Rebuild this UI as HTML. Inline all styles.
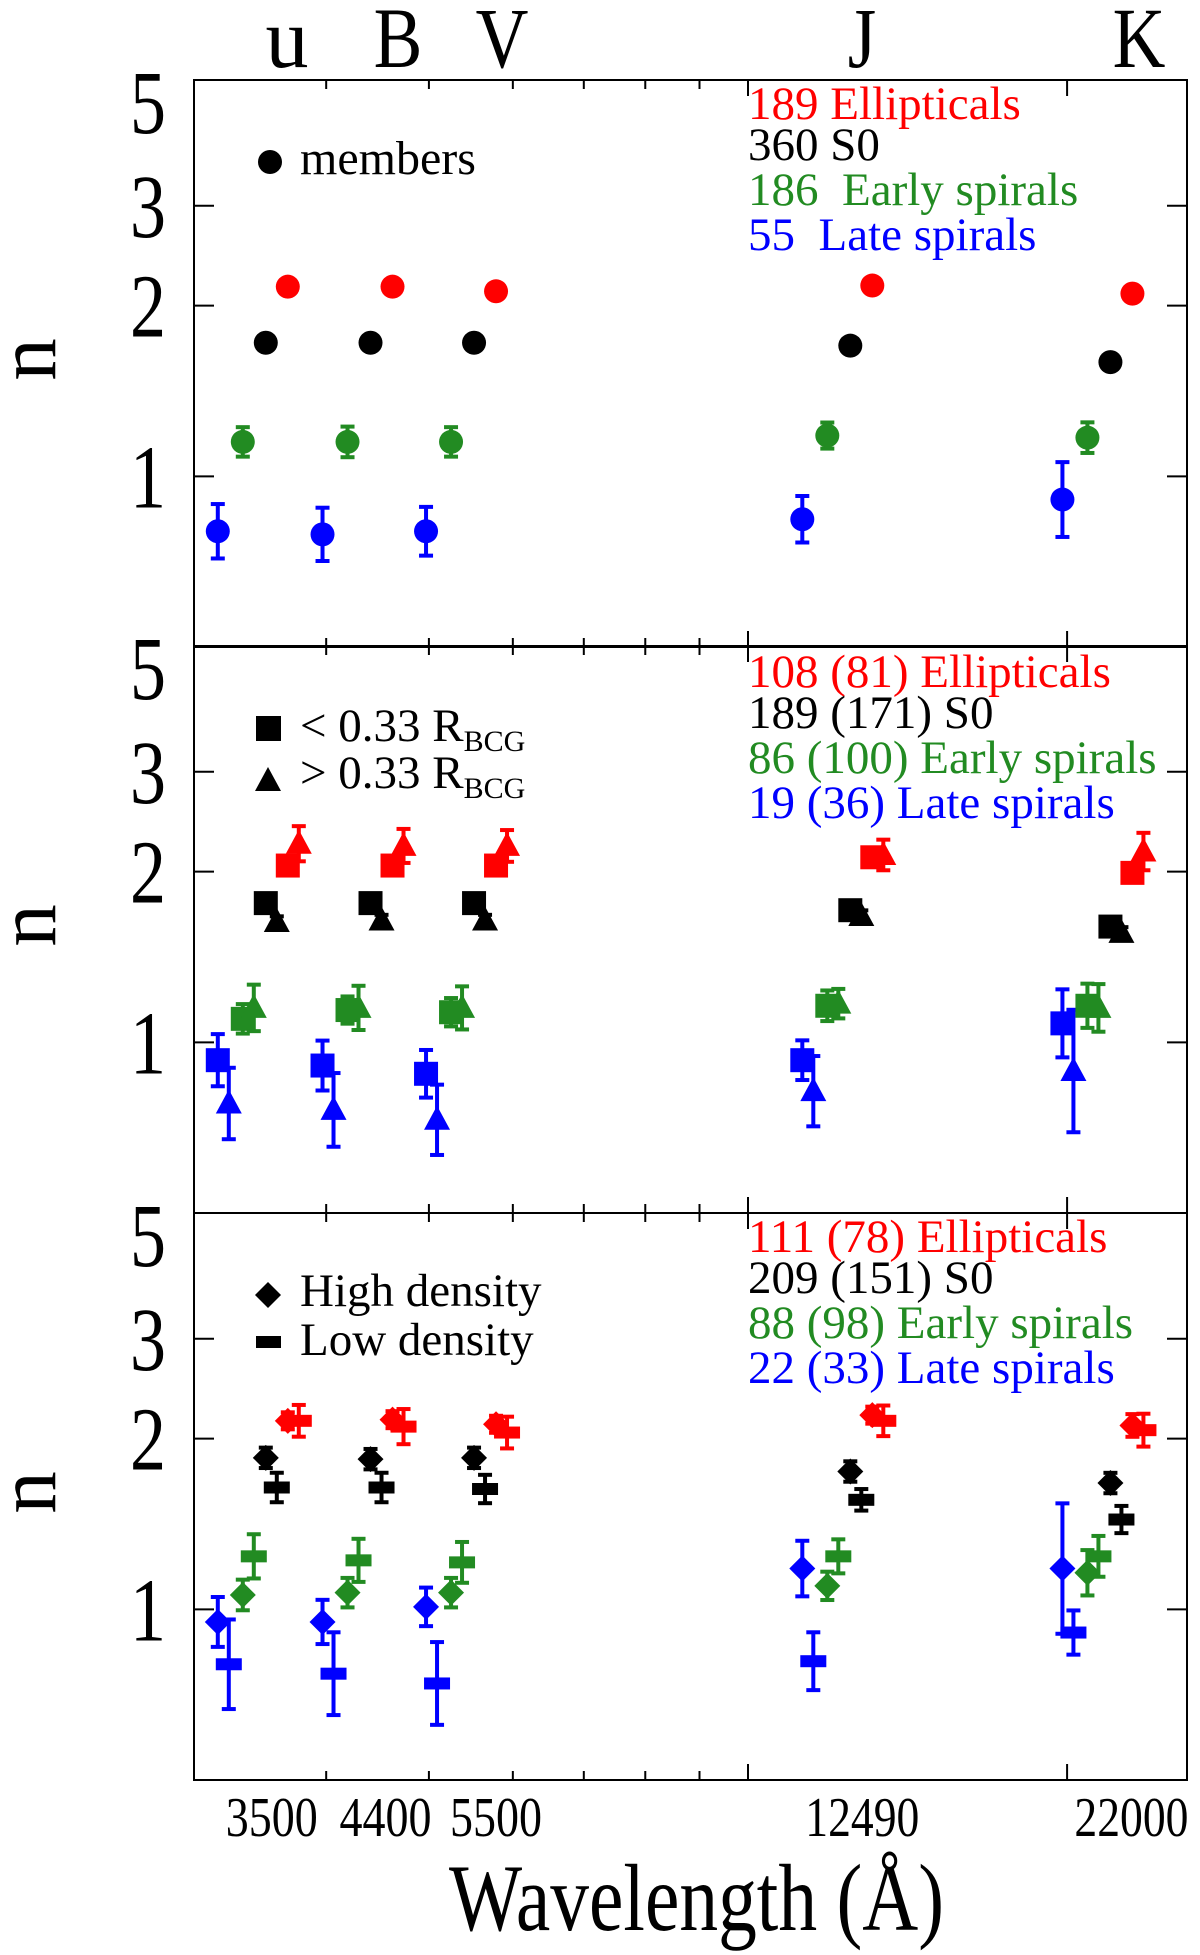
<!DOCTYPE html>
<html><head><meta charset="utf-8">
<style>
html,body{margin:0;padding:0;background:#fff;}
svg{display:block;font-family:"Liberation Serif",serif;}
</style></head>
<body>
<svg id="chart" width="1200" height="1955" viewBox="0 0 1200 1955" xmlns="http://www.w3.org/2000/svg">
  <g id="frames"></g>
  <g id="marks"></g>
  <g id="texts">
    <text x="287" y="67" font-size="86" text-anchor="middle">u</text>
    <text x="398" y="67" font-size="86" text-anchor="middle" transform="translate(398 0) scale(0.85 1) translate(-398 0)">B</text>
    <text x="502" y="67" font-size="86" text-anchor="middle" transform="translate(502 0) scale(0.85 1) translate(-502 0)">V</text>
    <text x="862" y="67" font-size="86" text-anchor="middle" transform="translate(862 0) scale(0.85 1) translate(-862 0)">J</text>
    <text x="1139" y="67" font-size="86" text-anchor="middle" transform="translate(1139 0) scale(0.85 1) translate(-1139 0)">K</text>

    <text x="449" y="1930" font-size="95" textLength="495" lengthAdjust="spacingAndGlyphs">Wavelength (Å)</text>

    <circle cx="270" cy="162" r="12" fill="#000"/>
    <text x="300" y="174" font-size="48">members</text>
    <g font-size="47">
      <text x="748" y="119" fill="#ff0000">189 Ellipticals</text>
      <text x="748" y="160" fill="#000">360 S0</text>
      <text x="748" y="205" fill="#228b22" xml:space="preserve">186  Early spirals</text>
      <text x="748" y="250" fill="#0000ff" xml:space="preserve">55  Late spirals</text>
    </g>
    <rect x="256" y="716" width="25" height="25" fill="#000"/>
    <text x="300" y="741" font-size="47">&lt; 0.33 R<tspan font-size="30" dy="10">BCG</tspan></text>
    <polygon points="268,767 281,791 255,791" fill="#000"/>
    <text x="300" y="788" font-size="47">&gt; 0.33 R<tspan font-size="30" dy="10">BCG</tspan></text>
    <g font-size="47">
      <text x="748" y="687" fill="#ff0000">108 (81) Ellipticals</text>
      <text x="748" y="728" fill="#000">189 (171) S0</text>
      <text x="748" y="773" fill="#228b22">86 (100) Early spirals</text>
      <text x="748" y="818" fill="#0000ff">19 (36) Late spirals</text>
    </g>
    <polygon points="268,1282 281,1295 268,1308 255,1295" fill="#000"/>
    <text x="300" y="1306" font-size="47">High density</text>
    <rect x="256" y="1336" width="25" height="12" fill="#000"/>
    <text x="300" y="1355" font-size="47">Low density</text>
    <g font-size="47">
      <text x="748" y="1252" fill="#ff0000">111 (78) Ellipticals</text>
      <text x="748" y="1293" fill="#000">209 (151) S0</text>
      <text x="748" y="1338" fill="#228b22">88 (98) Early spirals</text>
      <text x="748" y="1383" fill="#0000ff">22 (33) Late spirals</text>
    </g>
  </g>
</svg>
<script>
const bands = ['u','B','V','J','K'];
const bandLam = [3680, 4620, 5785, 13100, 23050];
const xTickMinor = [4000,5000,6000,7000,8000,9000];
const xTickMajor = [10000,20000];
const xTickLabels = ['3500','4400','5500','12490','22000'];
const yTicks = [1,2,3];
const yTickLabels = ['5','3','2','1'];
const yTickLabelVals = [5,3,2,1];
const typeNames = ['ellipticals','s0','early-spirals','late-spirals'];

const memE = [2.16,2.16,2.12,2.17,2.10];
const memS0 = [1.72,1.72,1.72,1.70,1.59];
const memSa = [1.15,1.15,1.15,1.18,1.17];
const memSc = [0.80,0.79,0.80,0.84,0.91];
const memEerr = [0.01,0.01,0.01,0.01,0.01];
const memS0err = [0.01,0.01,0.01,0.01,0.01];
const memSaerr = [0.026,0.027,0.026,0.023,0.027];
const memScerr = [0.048,0.047,0.043,0.041,0.066];

const inE = [2.05,2.05,2.05,2.12,1.99];
const inS0 = [1.76,1.76,1.76,1.71,1.60];
const inSa = [1.10,1.14,1.13,1.16,1.16];
const inSc = [0.93,0.91,0.88,0.93,1.08];
const inEerr = [0.015,0.015,0.015,0.015,0.015];
const inS0err = [0.01,0.01,0.01,0.01,0.01];
const inSaerr = [0.026,0.024,0.025,0.027,0.039];
const inScerr = [0.046,0.044,0.042,0.035,0.060];
const outE = [2.24,2.22,2.22,2.14,2.17];
const outS0 = [1.63,1.64,1.64,1.67,1.56];
const outSa = [1.15,1.15,1.15,1.17,1.15];
const outSc = [0.78,0.76,0.73,0.82,0.89];
const outEerr = [0.031,0.030,0.028,0.027,0.033];
const outS0err = [0.01,0.01,0.01,0.01,0.01];
const outSaerr = [0.041,0.039,0.038,0.026,0.042];
const outScerr = [0.063,0.065,0.062,0.062,0.108];

const hiE = [2.15,2.16,2.12,2.20,2.11];
const hiS0 = [1.85,1.84,1.85,1.75,1.67];
const hiSa = [1.06,1.07,1.07,1.10,1.16];
const hiSc = [0.95,0.95,1.01,1.18,1.18];
const hiEerr = [0.015,0.015,0.015,0.015,0.02];
const hiS0err = [0.018,0.018,0.018,0.018,0.018];
const hiSaerr = [0.027,0.026,0.026,0.025,0.040];
const hiScerr = [0.044,0.039,0.034,0.049,0.115];
const loE = [2.15,2.10,2.05,2.15,2.07];
const loS0 = [1.64,1.64,1.63,1.56,1.44];
const loSa = [1.24,1.22,1.21,1.24,1.24];
const loSc = [0.80,0.77,0.74,0.81,0.91];
const loEerr = [0.028,0.031,0.028,0.027,0.029];
const loS0err = [0.026,0.026,0.025,0.019,0.024];
const loSaerr = [0.039,0.038,0.036,0.030,0.036];
const loScerr = [0.079,0.073,0.073,0.051,0.039];

const NS = 'http://www.w3.org/2000/svg';
const X0 = 194, X1 = 1187;
const panelTop = [80, 646, 1213];
const PH = 567;
const colors = ['#ff0000','#000000','#228b22','#0000ff'];
const typeOffset = [0,-22,-45,-70];
const labelShift = [-16,-7,0,-10,-1];
const xs = l => 748 + 1060*Math.log10(l/10000);
const ys = (n,p) => panelTop[p] + PH*(Math.log10(5) - Math.log10(n));

const frames = document.getElementById('frames');
const marks = document.getElementById('marks');
const texts = document.getElementById('texts');

function mk(tag, attrs, parent){
  const e = document.createElementNS(NS, tag);
  for (const k in attrs) e.setAttribute(k, attrs[k]);
  parent.appendChild(e);
  return e;
}

for (let p=0;p<3;p++){
  const t = panelTop[p], b = t+PH;
  const fr = mk('rect',{x:X0,y:t,width:X1-X0,height:PH,fill:'none',stroke:'#000','stroke-width':2},frames);
  
  
  yTicks.forEach(v=>{
    const y = ys(v,p);
    const t1 = mk('line',{x1:X0,x2:X0+20,y1:y,y2:y,stroke:'#000','stroke-width':2},frames);
    
    
    const t2 = mk('line',{x1:X1-20,x2:X1,y1:y,y2:y,stroke:'#000','stroke-width':2},frames);
    
    
  });
  xTickMinor.forEach(l=>{
    const x = xs(l);
    const a = mk('line',{x1:x,x2:x,y1:t,y2:t+9,stroke:'#000','stroke-width':2},frames);
    
    
    const c = mk('line',{x1:x,x2:x,y1:b-9,y2:b,stroke:'#000','stroke-width':2},frames);
    
    
  });
  xTickMajor.forEach(l=>{
    const x = xs(l);
    const a = mk('line',{x1:x,x2:x,y1:t,y2:t+16,stroke:'#000','stroke-width':2},frames);
    
    
    const c = mk('line',{x1:x,x2:x,y1:b-16,y2:b,stroke:'#000','stroke-width':2},frames);
    
    
  });
  yTickLabels.forEach((s,i)=>{
    const v = yTickLabelVals[i];
    const y = v===5 ? t+53 : ys(v,p)+31;
    const tx = mk('text',{x:166,y:y,'font-size':90,'text-anchor':'end',transform:'translate(166 0) scale(0.8 1) translate(-166 0)'},texts);
    tx.textContent = s;
    
    
  });
  const cy = t + PH/2 - 4;
  const nl = mk('text',{x:0,y:0,'font-size':85,'text-anchor':'middle',transform:`translate(55 ${cy}) rotate(-90)`},texts);
  nl.textContent = 'n';
  
  
}

xTickLabels.forEach((s,i)=>{
  const x = xs(bandLam[i]) + labelShift[i];
  const tl = mk('text',{x:x,y:1836,'font-size':56,'text-anchor':'middle',textLength:(s.length===4?92:114),lengthAdjust:'spacingAndGlyphs'},texts);
  tl.textContent = s;
  
  
});

function errbar(x,n,err,p,col){
  const yT = ys(n*Math.pow(10,err),p), yB = ys(n/Math.pow(10,err),p);
  const g = mk('g',{stroke:col,'stroke-width':4},marks);
  
  
  mk('line',{x1:x,x2:x,y1:yT,y2:yB},g);
  mk('line',{x1:x-7,x2:x+7,y1:yT,y2:yT},g);
  mk('line',{x1:x-7,x2:x+7,y1:yB,y2:yB},g);
}
function marker(shape,x,y,col){
  let e;
  if (shape==='circle') e = mk('ellipse',{cx:x,cy:y,rx:12,ry:12,fill:col},marks);
  else if (shape==='square') e = mk('rect',{x:x-12,y:y-12,width:24,height:24,fill:col},marks);
  else if (shape==='triangle') e = mk('polygon',{points:`${x},${y-14} ${x+13},${y+10} ${x-13},${y+10}`,fill:col},marks);
  else if (shape==='diamond') e = mk('polygon',{points:`${x},${y-13} ${x+13},${y} ${x},${y+13} ${x-13},${y}`,fill:col},marks);
  else e = mk('rect',{x:x-13,y:y-6,width:26,height:12,fill:col},marks);
  return e;
}
function series(vals, errs, p, ti, shape, dx, name){
  vals.forEach((n,i)=>{
    const x = xs(bandLam[i]) + typeOffset[ti] + dx;
    errbar(x,n,errs[i],p,colors[ti]);
    const m = marker(shape,x,ys(n,p),colors[ti]);
    
    
  });
}
series(memSc, memScerr, 0, 3, 'circle', 0, 'members');
series(memSa, memSaerr, 0, 2, 'circle', 0, 'members');
series(memS0, memS0err, 0, 1, 'circle', 0, 'members');
series(memE, memEerr, 0, 0, 'circle', 0, 'members');
series(inSc, inScerr, 1, 3, 'square', 0, 'inner');
series(outSc, outScerr, 1, 3, 'triangle', 11, 'outer');
series(inSa, inSaerr, 1, 2, 'square', 0, 'inner');
series(outSa, outSaerr, 1, 2, 'triangle', 11, 'outer');
series(inS0, inS0err, 1, 1, 'square', 0, 'inner');
series(outS0, outS0err, 1, 1, 'triangle', 11, 'outer');
series(inE, inEerr, 1, 0, 'square', 0, 'inner');
series(outE, outEerr, 1, 0, 'triangle', 11, 'outer');
series(hiSc, hiScerr, 2, 3, 'diamond', 0, 'high-density');
series(loSc, loScerr, 2, 3, 'bar', 11, 'low-density');
series(hiSa, hiSaerr, 2, 2, 'diamond', 0, 'high-density');
series(loSa, loSaerr, 2, 2, 'bar', 11, 'low-density');
series(hiS0, hiS0err, 2, 1, 'diamond', 0, 'high-density');
series(loS0, loS0err, 2, 1, 'bar', 11, 'low-density');
series(hiE, hiEerr, 2, 0, 'diamond', 0, 'high-density');
series(loE, loEerr, 2, 0, 'bar', 11, 'low-density');
</script>
</body></html>
